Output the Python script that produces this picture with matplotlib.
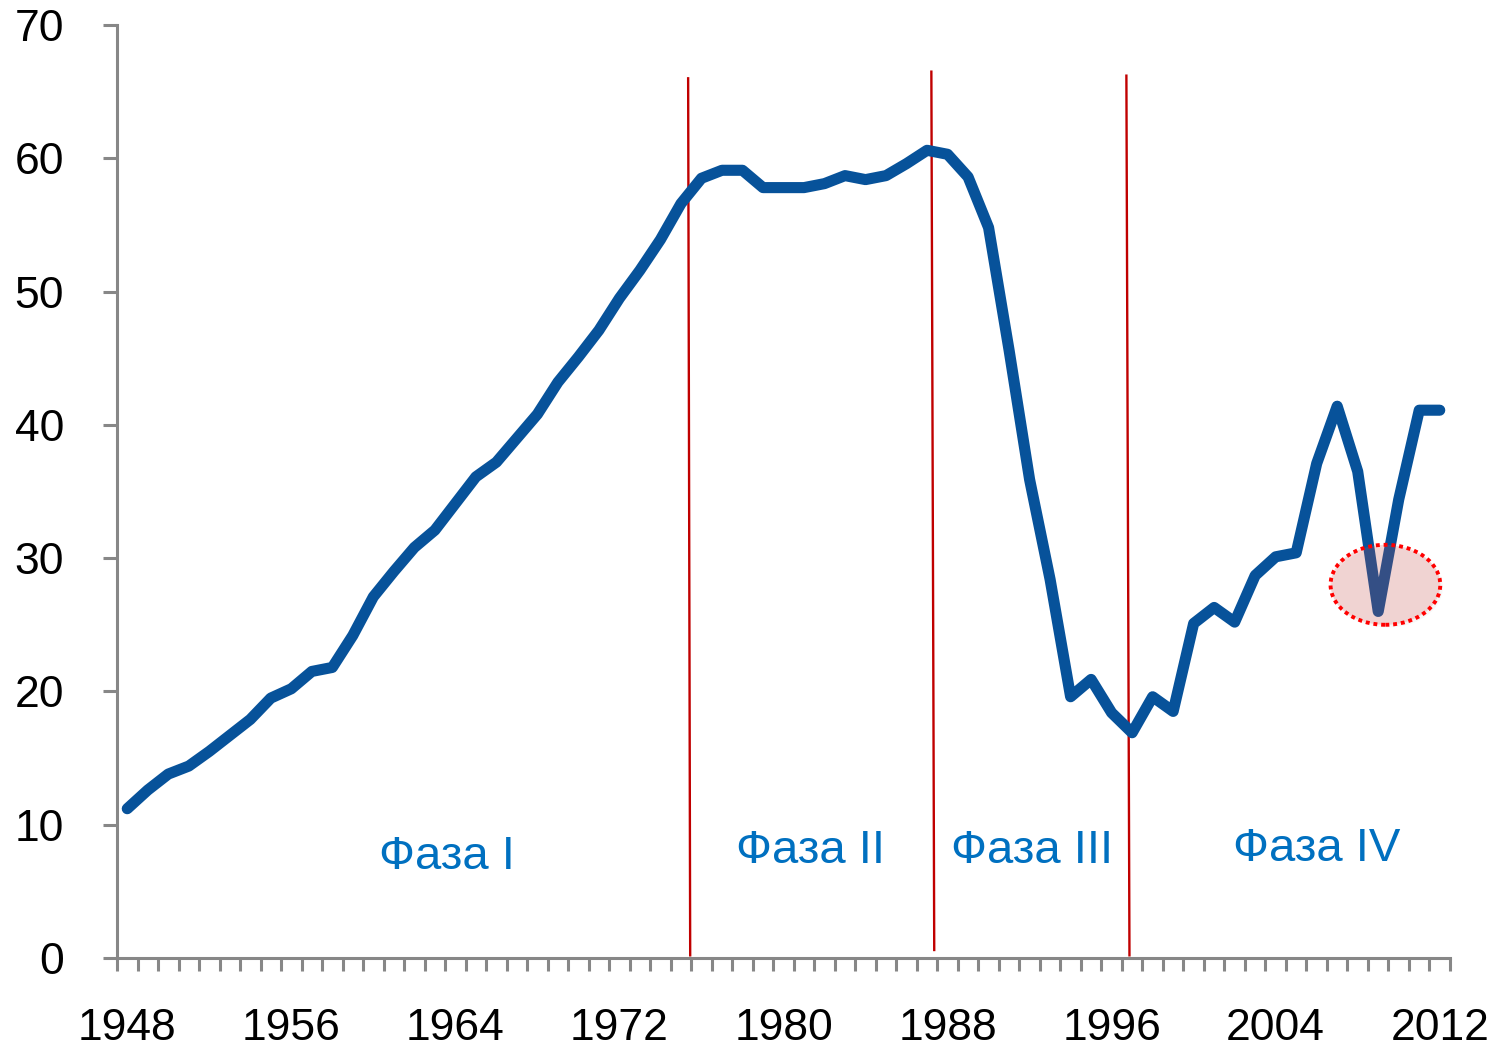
import matplotlib
matplotlib.use("Agg")
import matplotlib.pyplot as plt
from matplotlib.patches import Ellipse
import numpy as np

years = list(range(1948, 2013))
values = [11.2, 12.6, 13.8, 14.4, 15.5, 16.7, 17.9, 19.5, 20.2, 21.5,
          21.8, 24.2, 27.1, 29.0, 30.8, 32.1, 34.1, 36.1, 37.2, 39.0,
          40.8, 43.2, 45.1, 47.1, 49.5, 51.6, 53.9, 56.6, 58.5, 59.1,
          59.1, 57.8, 57.8, 57.8, 58.1, 58.7, 58.4, 58.7, 59.6, 60.6,
          60.3, 58.6, 54.8, 45.6, 35.9, 28.4, 19.6, 20.9, 18.4, 16.9,
          19.6, 18.5, 25.1, 26.3, 25.2, 28.7, 30.1, 30.4, 37.1, 41.4,
          36.5, 26.0, 34.4, 41.1, 41.1]
label_years = [1948, 1956, 1964, 1972, 1980, 1988, 1996, 2004, 2012]
y_ticks = [0, 10, 20, 30, 40, 50, 60, 70]
phase_labels = ["Фаза I", "Фаза II", "Фаза III", "Фаза IV"]
phase_label_x = [1963.6, 1981.3, 1992.1, 2006.0]
phase_label_y = [7.6, 8.0, 8.0, 8.2]
# divider lines: (x_top, y_top, x_bottom, y_bottom)
dividers = [(1975.35, 66.0, 1975.45, 0.2),
            (1987.21, 66.5, 1987.35, 0.6),
            (1996.72, 66.2, 1996.87, 0.2)]

plt.rcParams['font.family'] = ['Liberation Sans', 'DejaVu Sans']

fig = plt.figure(figsize=(14.97, 10.48), dpi=100)
ax = fig.add_axes([117/1497, 90/1048, (1450-117)/1497, (958-25)/1048])

ax.plot(years, values, color='#07529a', lw=8, solid_capstyle='round',
        solid_joinstyle='round', zorder=3)

for xt, yt, xb, yb in dividers:
    ax.plot([xt, xb], [yt, yb], color='#c00000', lw=1.7, zorder=2)

# highlight ellipse
shadow = Ellipse((2009.45, 27.8), 5.4, 6.0, facecolor='#000000', alpha=0.03,
                 edgecolor='none', zorder=3.5)
ax.add_patch(shadow)
ell = Ellipse((2009.35, 28.0), 5.35, 6.0, facecolor='#d9534f', alpha=0.22,
              edgecolor='none', zorder=4)
ax.add_patch(ell)
ell2 = Ellipse((2009.35, 28.0), 5.35, 6.0, facecolor='none', edgecolor='#ff0000',
               lw=2.8, linestyle=(0, (1, 1.0)), zorder=5)
ax.add_patch(ell2)

for t, x, y in zip(phase_labels, phase_label_x, phase_label_y):
    ax.text(x, y, t, color='#0070c0', fontsize=34, ha='center', va='center', zorder=6)

ax.set_xlim(1947.5, 2012.5)
ax.set_ylim(0, 70)

ax.set_xticks(np.arange(1947.5, 2013.0, 1.0))
ax.set_xticklabels([])
ax.set_xticks(label_years, minor=True)
ax.set_xticklabels([str(y) for y in label_years], minor=True)
ax.tick_params(axis='x', which='major', direction='out', length=9, width=2.2,
               color='#878787')
ax.tick_params(axis='x', which='minor', length=0, pad=36, labelsize=32)

ax.set_yticks(y_ticks)
ax.set_yticklabels([str(v) for v in y_ticks])
ax.tick_params(axis='y', direction='out', length=10, width=2.2, color='#878787',
               pad=28, labelsize=32)

for s in ['top', 'right']:
    ax.spines[s].set_visible(False)
for s in ['left', 'bottom']:
    ax.spines[s].set_color('#878787')
    ax.spines[s].set_linewidth(2.2)

fig.savefig('out.png', dpi=100)
